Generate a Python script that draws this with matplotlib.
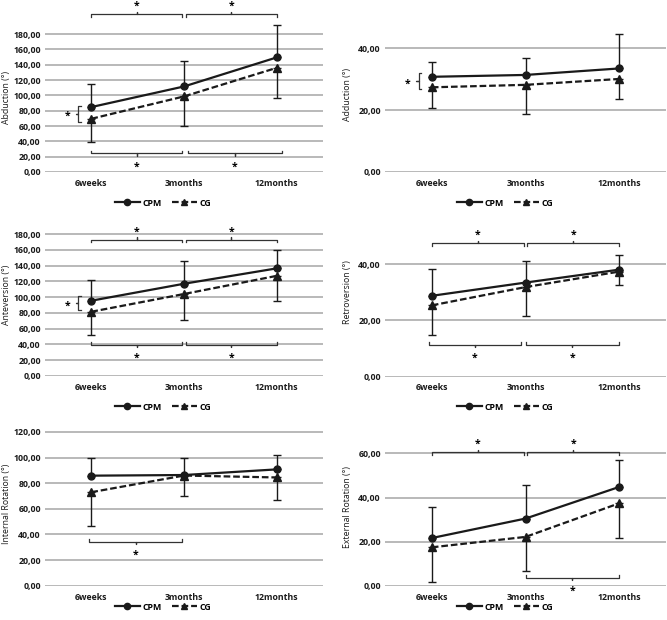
import numpy as np
import matplotlib
matplotlib.use("Agg")
import matplotlib.pyplot as plt
from matplotlib.lines import Line2D

plt.rcParams['font.family'] = ['Open Sans', 'DejaVu Sans']
plt.rcParams['font.weight'] = 'bold'
plt.rcParams['font.size'] = 6.3

categories = ["6weeks", "3months", "12months"]

# means and one-sided SD bars (CPM upward, CG downward)
abd_cpm = [84.8, 111.7, 149.6]
abd_cpm_sd = [29.5, 32.6, 42.1]
abd_cg = [69.5, 98.7, 136.0]
abd_cg_sd = [30.5, 38.3, 39.0]

add_cpm = [30.8, 31.4, 33.5]
add_cpm_sd = [4.7, 5.6, 11.2]
add_cg = [27.4, 28.2, 30.1]
add_cg_sd = [6.6, 9.5, 6.5]

ant_cpm = [95.5, 117.0, 136.5]
ant_cpm_sd = [26.2, 29.0, 23.5]
ant_cg = [81.5, 104.0, 127.0]
ant_cg_sd = [29.1, 33.0, 32.4]

ret_cpm = [28.7, 33.4, 38.0]
ret_cpm_sd = [9.5, 7.6, 5.3]
ret_cg = [25.3, 31.8, 37.3]
ret_cg_sd = [10.7, 10.2, 4.8]

ir_cpm = [85.9, 86.4, 90.8]
ir_cpm_sd = [13.5, 13.6, 11.2]
ir_cg = [73.0, 86.0, 84.5]
ir_cg_sd = [26.1, 15.7, 17.3]

er_cpm = [21.7, 30.5, 44.8]
er_cpm_sd = [14.2, 15.2, 12.0]
er_cg = [17.5, 22.2, 37.4]
er_cg_sd = [15.8, 15.6, 15.7]

# significance brackets: (x from, x to, y, above/below)
abd_brackets = [(0, 0.98, 206, 1), (1.02, 2.0, 206, 1), (0, 0.98, 24.5, -1), (1.04, 2.06, 24.5, -1)]
add_brackets = []
ant_brackets = [(0, 0.98, 172.5, 1), (1.02, 2.0, 172.5, 1), (0, 0.98, 39.7, -1), (1.02, 2.0, 39.7, -1)]
ret_brackets = [(0, 0.98, 47.4, 1), (1.02, 2.0, 47.4, 1), (-0.03, 0.95, 11.3, -1), (1.0, 2.0, 11.3, -1)]
ir_brackets = [(-0.02, 0.98, 34.4, -1)]
er_brackets = [(0, 0.98, 60.5, 1), (1.02, 2.0, 60.5, 1), (1.0, 2.0, 3.8, -1)]

# brace between groups at 6 weeks: (y low, y high)
abd_brace = (65.6, 86.0)
add_brace = (26.8, 31.9)
ant_brace = (83.6, 101.0)

W, H = 667, 620
fig = plt.figure(figsize=(W / 100, H / 100), dpi=100)

GRID = '#a6a6a6'
INK = '#1a1a1a'


def fmt(v):
    return f"{v:.2f}".replace('.', ',')


def panel(rect_px, ytop, yticks, ylabel, label_val, label_dx, cpm, cpm_sd, cg, cg_sd,
          brackets, brace, legend_px):
    left, right, top, bottom = rect_px
    ax = fig.add_axes([left / W, 1 - bottom / H, (right - left) / W, (bottom - top) / H])
    ppu = (bottom - top) / ytop  # pixels per data unit
    x = np.arange(len(categories))

    for t in yticks:
        ax.axhline(t, color=GRID, lw=1.1, zorder=0)

    ax.errorbar(x, cpm, yerr=[np.zeros(3), cpm_sd], fmt='none', ecolor=INK,
                elinewidth=1.0, capsize=3, capthick=1.0, zorder=2)
    ax.errorbar(x, cg, yerr=[cg_sd, np.zeros(3)], fmt='none', ecolor=INK,
                elinewidth=1.0, capsize=3, capthick=1.0, zorder=2)
    ax.plot(x, cpm, '-', marker='o', color=INK, lw=1.6, ms=5, zorder=3)
    ax.plot(x, cg, '--', marker='^', color=INK, lw=1.6, ms=5.5, dashes=(3, 1.3), zorder=3)

    for x0, x1, y, s in brackets:
        d = 2.5 / ppu
        xm = (x0 + x1) / 2
        ax.plot([x0, x0, xm, xm, xm, x1, x1],
                [y - s * d, y, y, y + s * d, y, y, y - s * d],
                color='#333333', lw=0.9, clip_on=False)
        ax.annotate('*', (xm, y), xytext=(0, 5.5 if s > 0 else -10),
                    textcoords='offset points', ha='center', va='center',
                    fontsize=7.5, annotation_clip=False)

    if brace is not None:
        y0, y1 = brace
        ym = (y0 + y1) / 2
        bx = -0.14
        dx = 0.025
        ax.plot([bx + dx, bx, bx, bx - dx, bx, bx, bx + dx],
                [y1, y1, ym, ym, ym, y0, y0], color='#333333', lw=0.9, clip_on=False)
        ax.annotate('*', (bx - 0.12, ym), xytext=(0, -2), textcoords='offset points',
                    ha='center', va='center', fontsize=7.5, annotation_clip=False)

    ax.set_xlim(-0.5, 2.5)
    ax.set_ylim(0, ytop)
    ax.set_yticks(yticks)
    ax.set_yticklabels([fmt(t) for t in yticks])
    ax.set_xticks(x)
    ax.set_xticklabels(categories)
    ax.tick_params(length=0, pad=3, colors=INK)
    ax.tick_params(axis='x', pad=5)
    for sp in ax.spines.values():
        sp.set_visible(False)
    ax.set_ylabel(ylabel, color=INK)
    ax.yaxis.set_label_coords(-label_dx / (right - left), label_val / ytop)

    handles = [Line2D([], [], color=INK, lw=1.6, marker='o', ms=4.5),
               Line2D([], [], color=INK, lw=1.6, ls='--', marker='^', ms=5, dashes=(3, 1.3))]
    fig.legend(handles, ['CPM', 'CG'], loc='center', ncol=2, frameon=False,
               bbox_to_anchor=(legend_px[0] / W, 1 - legend_px[1] / H),
               handlelength=2.8, columnspacing=1.2, handletextpad=0.3, fontsize=6.3)
    return ax


panel((45, 323, 2, 172), 222, np.arange(0, 181, 20), 'Abduction (°)', 97, 34,
      abd_cpm, abd_cpm_sd, abd_cg, abd_cg_sd, abd_brackets, abd_brace, (163, 203))
panel((385, 666, 2, 172), 55, np.arange(0, 41, 20), 'Adduction (°)', 25, 33,
      add_cpm, add_cpm_sd, add_cg, add_cg_sd, add_brackets, add_brace, (505, 203))
panel((45, 323, 212, 376), 208, np.arange(0, 181, 20), 'Anteversion (°)', 103, 34,
      ant_cpm, ant_cpm_sd, ant_cg, ant_cg_sd, ant_brackets, ant_brace, (163, 407))
panel((385, 666, 212, 376.5), 58.5, np.arange(0, 41, 20), 'Retroversion (°)', 30, 33,
      ret_cpm, ret_cpm_sd, ret_cg, ret_cg_sd, ret_brackets, None, (505, 407))
panel((45, 323, 412, 585.7), 135.6, np.arange(0, 121, 20), 'Internal Rotation (°)', 64, 34,
      ir_cpm, ir_cpm_sd, ir_cg, ir_cg_sd, ir_brackets, None, (163, 607))
panel((385, 666, 412, 586), 78.7, np.arange(0, 61, 20), 'External Rotation (°)', 35.7, 33,
      er_cpm, er_cpm_sd, er_cg, er_cg_sd, er_brackets, None, (505, 607))

fig.savefig('out.png', dpi=100)
